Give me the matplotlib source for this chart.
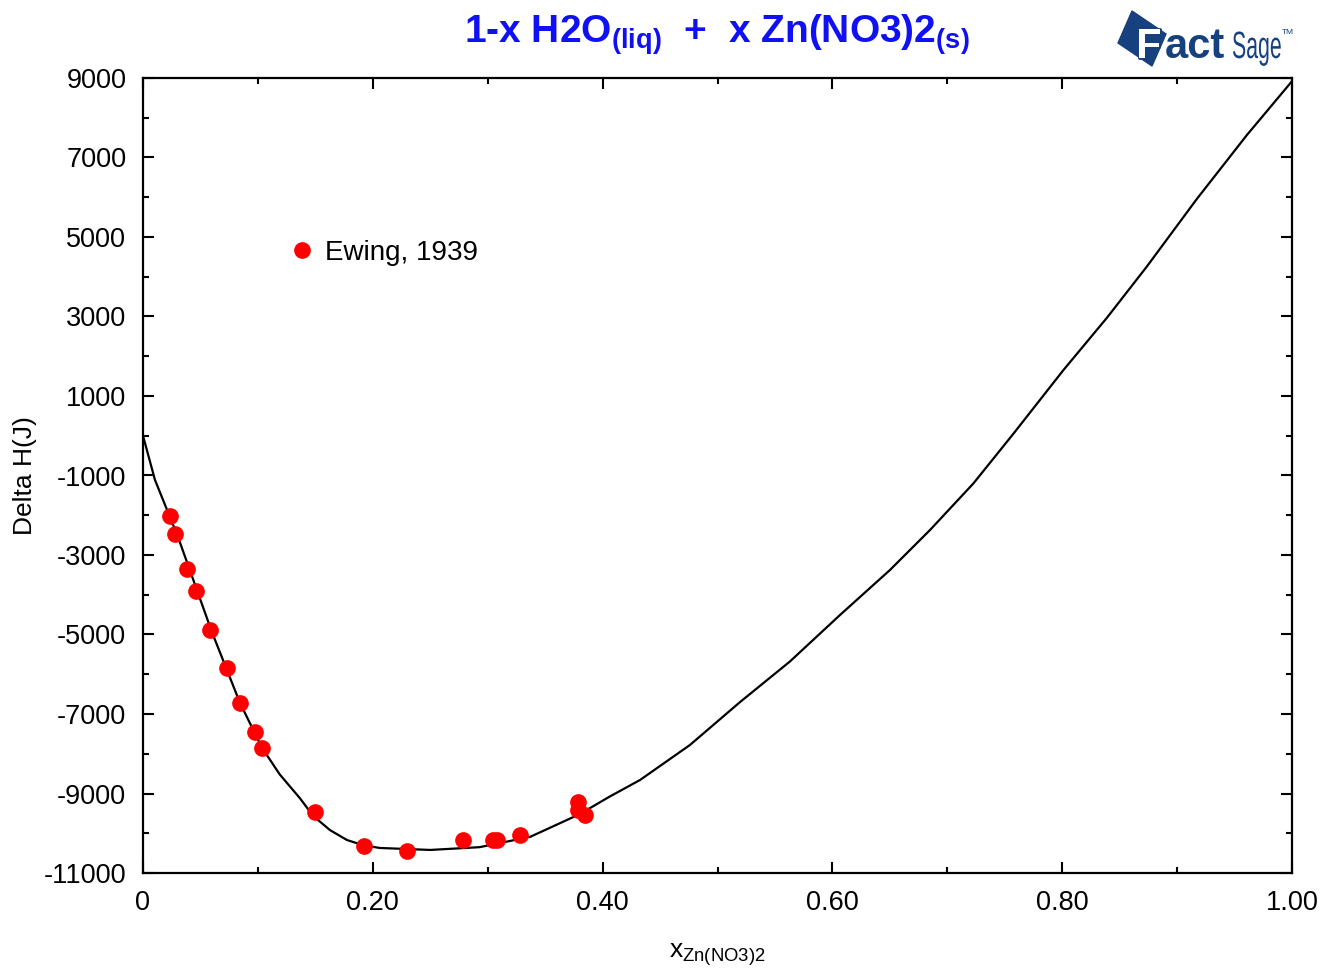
import matplotlib
matplotlib.use('Agg')
import matplotlib.pyplot as plt
from matplotlib.patches import Polygon, PathPatch
from matplotlib.ticker import MultipleLocator, FixedLocator
from matplotlib.textpath import TextPath
from matplotlib.font_manager import FontProperties
from matplotlib.transforms import Affine2D
import matplotlib.patheffects as pe

plt.rcParams['font.family'] = ['Liberation Sans', 'DejaVu Sans']
plt.rcParams['mathtext.default'] = 'regular'
plt.rcParams['axes.unicode_minus'] = False

# Ewing, 1939 measurements
ewing_x = [0.0235, 0.0279, 0.0383, 0.0461, 0.0583, 0.0731, 0.0844, 0.0975, 0.1036,
           0.1497, 0.1923, 0.2298, 0.2785, 0.3046, 0.3080, 0.3280, 0.3786, 0.3786, 0.3847]
ewing_y = [-2020, -2470, -3350, -3910, -4890, -5840, -6720, -7450, -7860,
           -9470, -10320, -10450, -10170, -10170, -10170, -10040, -9210, -9420, -9540]

# calculated curve
calc_x = [0, 0.0104, 0.0305, 0.060, 0.0844, 0.1036, 0.119, 0.1366, 0.148, 0.1627,
          0.1775, 0.1915, 0.206, 0.250, 0.293, 0.337, 0.380, 0.406, 0.4326, 0.476,
          0.5196, 0.563, 0.6066, 0.650, 0.685, 0.7227, 0.7575, 0.801, 0.8387, 0.8735,
          0.917, 0.9606, 1.0]
calc_y = [0, -1110, -2550, -4940, -6720, -7850, -8520, -9120, -9560, -9920,
          -10170, -10300, -10370, -10420, -10350, -10090, -9520, -9080, -8660, -7780,
          -6700, -5680, -4510, -3380, -2370, -1200, 50, 1650, 2960, 4250,
          5950, 7560, 8920]

x_ticks = [0, 0.2, 0.4, 0.6, 0.8, 1.0]
x_labels = ['0', '0.20', '0.40', '0.60', '0.80', '1.00']
y_ticks = [9000, 7000, 5000, 3000, 1000, -1000, -3000, -5000, -7000, -9000, -11000]

W, H = 1323, 971
fig = plt.figure(figsize=(W / 100, H / 100), dpi=100)
ax = fig.add_axes([143 / W, 1 - 873 / H, (1292 - 143) / W, (873 - 78) / H])
pix = Affine2D().scale(1 / W, 1 / H) + fig.transFigure

ax.plot(calc_x, calc_y, color='black', lw=1.6, zorder=2)
ax.plot(ewing_x, ewing_y, 'o', color='#ff0000', ms=11, mec='#ff0000', zorder=3,
        label='Ewing, 1939')

ax.set_xlim(0, 1)
ax.set_ylim(-11000, 9000)
ax.xaxis.set_major_locator(FixedLocator(x_ticks))
ax.set_xticklabels(x_labels)
ax.xaxis.set_minor_locator(MultipleLocator(0.1))
ax.yaxis.set_major_locator(FixedLocator(y_ticks))
ax.yaxis.set_minor_locator(MultipleLocator(1000))
ax.tick_params(which='both', direction='in', top=True, right=True, width=1.5,
               labelsize=19.5, colors='black')
ax.tick_params(which='major', length=8, pad=12)
ax.tick_params(which='minor', length=4.5)
for s in ax.spines.values():
    s.set_linewidth(1.6)

ax.set_ylabel('Delta H(J)', fontsize=19)
ax.yaxis.set_label_coords(-0.092, 0.5)
fig.text(717 / W, 1 - 955 / H, r'x$_{Zn(NO3)2}$', fontsize=19, ha='center', va='center')

ax.legend(loc='center left', bbox_to_anchor=(0.1166, 0.780), frameon=False,
          fontsize=20, handlelength=1.0, handletextpad=0.33, borderaxespad=0,
          numpoints=1)

fig.text(717 / W, 1 - 35 / H, r'1-x H2O$_{(liq)}$  +  x Zn(NO3)2$_{(s)}$',
         ha='center', va='center', color='#1010f5', fontsize=28, fontweight='bold')

# FactSage logo
navy = '#16407e'
logo = Polygon([[1132, H - 11], [1118, H - 43], [1152, H - 66], [1166, H - 34]],
               closed=True, transform=pix, facecolor=navy, edgecolor=navy)
fig.patches.append(logo)
fig.text(1136 / W, 1 - 58 / H, 'F', color='white', fontsize=30, fontweight='bold',
         va='baseline', ha='left',
         path_effects=[pe.withStroke(linewidth=2, foreground=navy)])
fig.text(1165 / W, 1 - 58 / H, 'act', color=navy, fontsize=30, fontweight='bold',
         va='baseline', ha='left')
sage = TextPath((0, 0), 'Sage', size=38, prop=FontProperties(family='Liberation Sans'))
fig.patches.append(PathPatch(sage, transform=Affine2D().scale(0.56, 1).translate(1232, H - 58) + pix,
                             facecolor=navy, edgecolor='none'))
fig.text(1282 / W, 1 - 33 / H, 'TM', color=navy, fontsize=6, va='center', ha='left')

fig.savefig('out.png', dpi=100)
